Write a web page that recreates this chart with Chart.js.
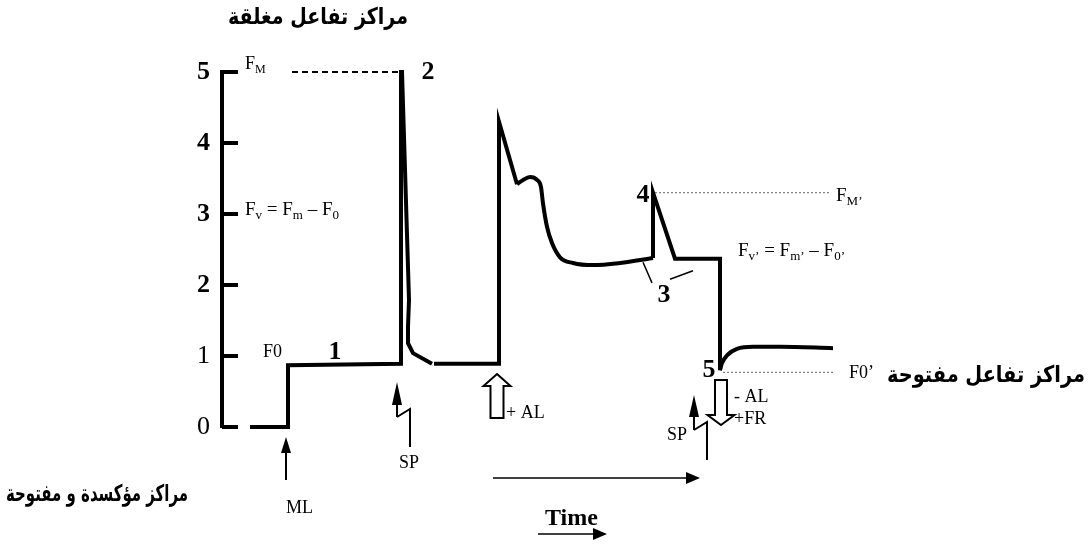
<!DOCTYPE html>
<html>
<head>
<meta charset="utf-8">
<script src="https://cdn.jsdelivr.net/npm/chart.js@4"></script>
<style>
html, body { margin: 0; padding: 0; background: #fff; }
canvas { display: block; }
</style>
</head>
<body>
<canvas id="fluoChart" width="1091" height="545"></canvas>
<script>
// relative fluorescence, time in arbitrary units
const yTicks = [0, 1, 2, 3, 4, 5];

// dark adapted: ML on, then first saturating pulse
const darkTime = [28, 66, 66, 179, 179, 180, 187, 186, 186, 191, 210];
const darkFluo = [0, 0, 0.87, 0.89, 5.0, 5.0, 1.79, 1.41, 1.18, 1.04, 0.89];

// actinic light on
const alTime = [212, 277, 277, 295];
const alFluo = [0.89, 0.89, 4.3, 3.42];

// slow induction (curved part)
const inducTime = [295, 301, 308, 315, 319, 321, 325, 330, 338, 351, 371, 398, 431];
const inducFluo = [3.42, 3.48, 3.52, 3.48, 3.38, 3.15, 2.82, 2.59, 2.39, 2.31, 2.28, 2.31, 2.38];

// second pulse in light, then AL off
const sp2Time = [431, 431, 453, 498, 498];
const sp2Fluo = [2.38, 3.30, 2.37, 2.37, 0.80];

// recovery after AL off + FR
const recTime = [498, 500, 505, 515, 531, 558, 611];
const recFluo = [0.80, 0.90, 1.01, 1.10, 1.13, 1.13, 1.11];

// reference levels
const fmTime = [70, 179];     const fmLevel = [5.0, 5.0];
const fmpTime = [433, 608];   const fmpLevel = [3.30, 3.30];
const f0pTime = [501, 611];   const f0pLevel = [0.77, 0.77];

// pointer strokes for label "3"
const mark3aTime = [421, 430]; const mark3aFluo = [2.32, 2.03];
const mark3bTime = [448, 471]; const mark3bFluo = [2.08, 2.20];

// light events: ML, SP, +AL, SP, -AL
const eventTime = [64, 175, 275, 472, 499];

function pts(xs, ys) {
    return xs.map((x, i) => ({ x: x, y: ys[i] }));
}

function drawParts(ctx, x, y, parts, size) {
    parts.forEach(function (p) {
        const sub = p[1];
        const s = sub ? Math.round(size * 0.68) : size;
        ctx.font = s + 'px "Liberation Serif"';
        ctx.fillText(p[0], x, sub ? y + size * 0.22 : y);
        x += ctx.measureText(p[0]).width;
    });
}

// bold Arabic caption, squeezed horizontally to the width seen in the figure
function fitArabic(ctx, text, cx, cy, width) {
    ctx.font = 'bold 23px "DejaVu Sans"';
    const w = ctx.measureText(text).width;
    ctx.save();
    ctx.translate(cx, cy);
    ctx.scale(width / w, 1);
    ctx.textAlign = 'center';
    ctx.textBaseline = 'middle';
    ctx.fillText(text, 0, 0);
    ctx.restore();
}

function solidArrowUp(ctx, x, tip, base, end) {
    ctx.beginPath();
    ctx.moveTo(x, tip);
    ctx.lineTo(x + 5, base);
    ctx.lineTo(x - 5, base);
    ctx.closePath();
    ctx.fill();
    ctx.beginPath();
    ctx.moveTo(x, base);
    ctx.lineTo(x, end);
    ctx.stroke();
}

function hollowArrow(ctx, cx, tip, base, end, head, shaft) {
    ctx.beginPath();
    ctx.moveTo(cx, tip);
    ctx.lineTo(cx + head, base);
    ctx.lineTo(cx + shaft, base);
    ctx.lineTo(cx + shaft, end);
    ctx.lineTo(cx - shaft, end);
    ctx.lineTo(cx - shaft, base);
    ctx.lineTo(cx - head, base);
    ctx.closePath();
    ctx.fillStyle = '#fff';
    ctx.fill();
    ctx.stroke();
    ctx.fillStyle = '#000';
}

function timeArrow(ctx, x0, x1, y) {
    ctx.beginPath();
    ctx.moveTo(x0, y);
    ctx.lineTo(x1 - 12, y);
    ctx.stroke();
    ctx.beginPath();
    ctx.moveTo(x1, y);
    ctx.lineTo(x1 - 14, y - 6);
    ctx.lineTo(x1 - 14, y + 6);
    ctx.closePath();
    ctx.fill();
}

const overlay = {
    id: 'overlay',
    afterDatasetsDraw(chart) {
        const ctx = chart.ctx;
        const xs = chart.scales.x, ys = chart.scales.y;
        const px = v => xs.getPixelForValue(v);
        const py = v => ys.getPixelForValue(v);
        const left = chart.chartArea.left;
        ctx.save();
        ctx.fillStyle = '#000';
        ctx.strokeStyle = '#000';

        // tick marks pointing into the plot
        ctx.lineWidth = 4;
        yTicks.forEach(function (v) {
            ctx.beginPath();
            ctx.moveTo(left, py(v));
            ctx.lineTo(left + 16, py(v));
            ctx.stroke();
        });

        // ML arrow
        ctx.lineWidth = 2;
        solidArrowUp(ctx, px(eventTime[0]), 437, 453, 480);

        // SP arrows with lightning stroke
        [[eventTime[1], 382, 405, 417, 447], [eventTime[3], 395, 417, 430, 460]].forEach(function (a) {
            const x = px(a[0]);
            solidArrowUp(ctx, x, a[1], a[2], a[3]);
            ctx.beginPath();
            ctx.moveTo(x, a[3]);
            ctx.lineTo(x + 13, a[3] - 8);
            ctx.lineTo(x + 13, a[4]);
            ctx.stroke();
        });

        // AL on / AL off hollow arrows
        hollowArrow(ctx, px(eventTime[2]), 374, 386, 418, 13.5, 6.5);
        hollowArrow(ctx, px(eventTime[4]), 425, 415, 380, 13.5, 6);

        // time arrows
        ctx.lineWidth = 1.5;
        timeArrow(ctx, 493, 700, 478);
        timeArrow(ctx, 538, 607, 534);

        // math labels
        ctx.textAlign = 'left';
        ctx.textBaseline = 'alphabetic';
        drawParts(ctx, 245, 69, [['F'], ['M', 1]], 18);
        drawParts(ctx, 245, 215, [['F'], ['v', 1], [' = F'], ['m', 1], [' \u2013 F'], ['0', 1]], 19);
        drawParts(ctx, 263, 357, [['F0']], 18);
        drawParts(ctx, 738, 256, [['F'], ['v\u2019', 1], [' = F'], ['m\u2019', 1], [' \u2013 F'], ['0\u2019', 1]], 19);
        drawParts(ctx, 836, 201, [['F'], ['M\u2019', 1]], 19);
        drawParts(ctx, 849, 378, [['F0\u2019']], 18);
        drawParts(ctx, 734, 402, [['- AL']], 18);
        drawParts(ctx, 734, 424, [['+FR']], 18);
        drawParts(ctx, 667, 440, [['SP']], 18);
        drawParts(ctx, 399, 468, [['SP']], 18);
        drawParts(ctx, 506, 418, [['+ AL']], 18);
        drawParts(ctx, 286, 513, [['ML']], 18);

        ctx.font = 'bold 24px "Liberation Serif"';
        ctx.fillText('Time', 545, 525);

        // step numbers
        ctx.font = 'bold 26px "Liberation Serif"';
        ctx.textAlign = 'center';
        ctx.textBaseline = 'middle';
        [['2', 428, 72], ['1', 335, 352], ['4', 643, 195], ['3', 664, 295], ['5', 709, 370]].forEach(function (n) {
            ctx.fillText(n[0], n[1], n[2]);
        });

        // Arabic captions
        fitArabic(ctx, 'مراكز تفاعل مغلقة', 318, 18, 180);
        fitArabic(ctx, 'مراكز تفاعل مفتوحة', 986, 376, 198);
        fitArabic(ctx, 'مراكز مؤكسدة و مفتوحة', 97, 495, 182);

        ctx.restore();
    }
};

document.addEventListener('DOMContentLoaded', function () {
    const ctxEl = document.getElementById('fluoChart');

    const traceStyle = { borderColor: '#000', borderWidth: 4, pointRadius: 0, fill: false, clip: false };
    const thin = { borderColor: '#000', borderWidth: 1.5, pointRadius: 0, fill: false, clip: false };
    const dotted = { borderColor: '#666', borderWidth: 1, borderDash: [2, 2], pointRadius: 0, fill: false, clip: false };

    new Chart(ctxEl, {
        type: 'line',
        data: {
            datasets: [
                Object.assign({ label: 'dark', data: pts(darkTime, darkFluo), tension: 0 }, traceStyle),
                Object.assign({ label: 'al', data: pts(alTime, alFluo), tension: 0 }, traceStyle),
                Object.assign({ label: 'induction', data: pts(inducTime, inducFluo), cubicInterpolationMode: 'monotone' }, traceStyle),
                Object.assign({ label: 'sp2', data: pts(sp2Time, sp2Fluo), tension: 0 }, traceStyle),
                Object.assign({ label: 'recovery', data: pts(recTime, recFluo), cubicInterpolationMode: 'monotone' }, traceStyle),
                Object.assign({ label: 'Fm', data: pts(fmTime, fmLevel) }, thin, { borderWidth: 2, borderDash: [6, 4] }),
                Object.assign({ label: "Fm'", data: pts(fmpTime, fmpLevel) }, dotted),
                Object.assign({ label: "F0'", data: pts(f0pTime, f0pLevel) }, dotted),
                Object.assign({ label: 'm3a', data: pts(mark3aTime, mark3aFluo) }, thin),
                Object.assign({ label: 'm3b', data: pts(mark3bTime, mark3bFluo) }, thin)
            ]
        },
        options: {
            responsive: false,
            animation: false,
            layout: { padding: { left: 182, top: 72, right: 249, bottom: 118 } },
            scales: {
                x: { type: 'linear', min: 0, max: 620, display: false },
                y: {
                    min: 0,
                    max: 5,
                    afterFit: function (scale) { scale.width = 40; },
                    afterBuildTicks: function (scale) { scale.ticks = yTicks.map(v => ({ value: v })); },
                    grid: { display: false, drawTicks: false },
                    border: { display: true, color: '#000', width: 4 },
                    ticks: {
                        padding: 12,
                        color: '#000',
                        font: function (c) {
                            return { family: 'Liberation Serif', size: 26, weight: c.tick && c.tick.value >= 2 ? 'bold' : 'normal' };
                        }
                    }
                }
            },
            plugins: {
                legend: { display: false },
                tooltip: { enabled: false }
            }
        },
        plugins: [overlay]
    });
});
</script>
</body>
</html>
